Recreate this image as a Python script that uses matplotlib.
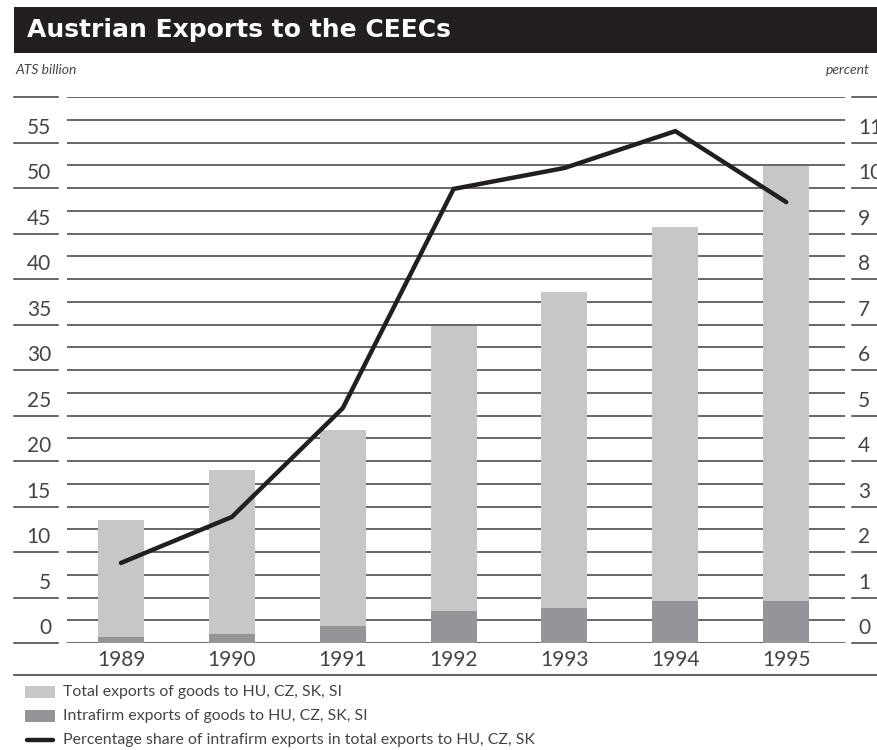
import numpy as np
import matplotlib
matplotlib.use("Agg")
import matplotlib.pyplot as plt
from matplotlib.patches import Rectangle
from matplotlib.lines import Line2D
import matplotlib.transforms as mtransforms

plt.rcParams['font.family'] = ['Lato', 'DejaVu Sans']

years = ['1989', '1990', '1991', '1992', '1993', '1994', '1995']
total_exports = [13.5, 19.0, 23.4, 34.8, 38.6, 45.7, 52.4]      # ATS billion
intrafirm_exports = [0.66, 1.0, 1.87, 3.5, 3.85, 4.6, 4.6]      # ATS billion
share_pct = [1.76, 2.77, 5.16, 9.98, 10.44, 11.25, 9.69]         # percent

left_ticks = [0, 5, 10, 15, 20, 25, 30, 35, 40, 45, 50, 55]
right_ticks = [0, 1, 2, 3, 4, 5, 6, 7, 8, 9, 10, 11]

light = '#c6c7c9'
dark = '#939598'
black = '#231f20'
textc = '#444444'

W, H = 877, 750
fig = plt.figure(figsize=(W / 100, H / 100), dpi=100)

def fx(px):
    return px / W

def fy(py):
    return 1 - py / H

ax = fig.add_axes([fx(67), fy(643), fx(845) - fx(67), fy(97) - fy(643)])
ax.set_xlim(-0.487, 6.53)
ax.set_ylim(0, 60)
ax.axis('off')

# grid lines every 2.5 units
for v in np.arange(0, 60.1, 2.5):
    ax.axhline(v, color='#3c3c3c', lw=1.1, zorder=1)

x = np.arange(len(years))
ax.bar(x, total_exports, width=0.415, color=light, zorder=2)
ax.bar(x, intrafirm_exports, width=0.415, color=dark, zorder=3)
# percent share drawn on the ATS scale (11 % == 55)
ax.plot(x, np.array(share_pct) * 5, color=black, lw=3.2, zorder=4,
        solid_capstyle='round', solid_joinstyle='miter')

# outer short tick segments and labels
trans = mtransforms.blended_transform_factory(fig.transFigure, ax.transData)
for v in np.arange(0, 60.1, 5):
    fig.add_artist(Line2D([fx(14), fx(58)], [v, v], transform=trans,
                          color='#3c3c3c', lw=1.1))
    fig.add_artist(Line2D([fx(852), fx(880)], [v, v], transform=trans,
                          color='#3c3c3c', lw=1.1))
for v, r in zip(left_ticks, right_ticks):
    fig.text(fx(51), v + 1.6, str(v), transform=trans, ha='right', va='center',
             fontsize=15, color=textc)
    fig.text(fx(858), v + 1.6, str(r), transform=trans, ha='left', va='center',
             fontsize=15, color=textc)

# year labels
for i, yr in enumerate(years):
    ax.text(i, -1.9, yr, ha='center', va='center', fontsize=15, color=textc)

# bottom rule
fig.add_artist(Line2D([fx(14), 1], [fy(675), fy(675)], color='#555555', lw=1.3))

# title bar
fig.add_artist(Rectangle((fx(14), fy(53)), 1 - fx(14), fy(7) - fy(53),
                         transform=fig.transFigure, color=black, lw=0))
fig.text(fx(27), fy(30), 'Austrian Exports to the CEECs', color='white',
         fontsize=18, fontweight='bold', va='center', ha='left',
         family='DejaVu Sans')

fig.text(fx(15), fy(70), 'ATS billion', fontsize=10, style='italic',
         color=textc, va='center', ha='left')
fig.text(fx(826), fy(70), 'percent', fontsize=10, style='italic',
         color=textc, va='center', ha='left')

# legend
legend_items = [
    ('patch', light, 'Total exports of goods to HU, CZ, SK, SI', 692),
    ('patch', dark, 'Intrafirm exports of goods to HU, CZ, SK, SI', 716),
    ('line', black, 'Percentage share of intrafirm exports in total exports to HU, CZ, SK', 740),
]
for kind, col, label, py in legend_items:
    if kind == 'patch':
        fig.add_artist(Rectangle((fx(25), fy(py + 6)), fx(55) - fx(25), fy(py - 6) - fy(py + 6),
                                 transform=fig.transFigure, color=col, lw=0))
    else:
        fig.add_artist(Line2D([fx(27), fx(53)], [fy(py), fy(py)], color=col, lw=3.2,
                              solid_capstyle='round'))
    fig.text(fx(63), fy(py), label, fontsize=11.4, color=textc, va='center',
             ha='left')

fig.savefig('out.png', dpi=100)
